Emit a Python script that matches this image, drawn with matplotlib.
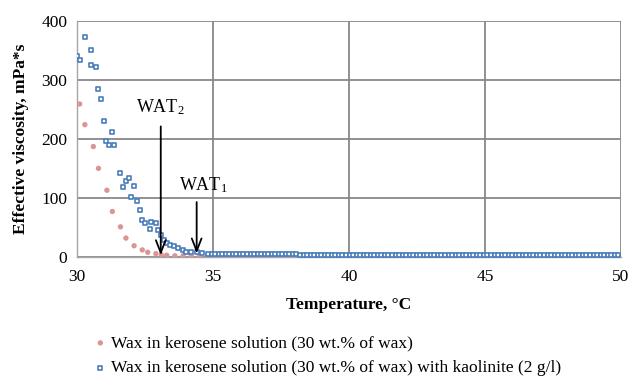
import numpy as np
import matplotlib
matplotlib.use("Agg")
import matplotlib.pyplot as plt

plt.rcParams['font.family'] = ['Liberation Serif', 'DejaVu Serif']
plt.rcParams['mathtext.default'] = 'regular'

# Blue: with kaolinite
blue_T_early = [30.0, 30.1, 30.29, 30.5, 30.51, 30.7, 30.79, 30.9, 31.0, 31.07, 31.17,
                31.3, 31.37, 31.6, 31.7, 31.8, 31.9, 32.0, 32.1, 32.2, 32.3, 32.4, 32.5,
                32.7, 32.72, 32.9, 32.99, 33.1, 33.2, 33.3, 33.43, 33.58, 33.72, 33.9,
                34.0, 34.2, 34.4, 34.6, 34.8]
blue_V_early = [341, 334, 373, 325, 350, 322, 284, 268, 231, 197, 189,
                211, 189, 143, 119, 129, 133, 101, 121, 95, 80, 63, 58,
                48, 59.6, 58, 45, 37, 29, 23, 20, 18.6, 14.6, 12,
                9, 8, 8, 6, 4.5]
blue_T_tail = np.round(np.arange(34.95, 50.0, 0.13), 2)  # 116 readings
blue_V_tail = [5.0, 5.0, 4.9, 4.8, 4.8, 4.7, 4.7, 4.6, 4.6, 4.6, 4.5, 4.5, 4.5, 4.5,
               4.4, 4.4, 4.4, 4.4, 4.4, 4.3, 4.3, 4.3, 4.3, 4.3, 4.3, 4.2, 4.2, 4.2,
               4.2, 4.2, 4.2, 4.2, 4.1, 4.1, 4.1, 4.1, 4.1, 4.1, 4.1, 4.1, 4.0, 4.0,
               4.0, 4.0, 4.0, 4.0, 4.0, 4.0, 4.0, 4.0, 3.9, 3.9, 3.9, 3.9, 3.9, 3.9,
               3.9, 3.9, 3.9, 3.9, 3.9, 3.9, 3.8, 3.8, 3.8, 3.8, 3.8, 3.8, 3.8, 3.8,
               3.8, 3.8, 3.8, 3.8, 3.8, 3.7, 3.7, 3.7, 3.7, 3.7, 3.7, 3.7, 3.7, 3.7,
               3.7, 3.7, 3.7, 3.7, 3.7, 3.7, 3.6, 3.6, 3.6, 3.6, 3.6, 3.6, 3.6, 3.6,
               3.6, 3.6, 3.6, 3.6, 3.6, 3.6, 3.6, 3.6, 3.5, 3.5, 3.5, 3.5, 3.5, 3.5,
               3.5, 3.5, 3.5, 3.5]
n_tail = min(len(blue_T_tail), len(blue_V_tail))
blue_T = list(blue_T_early) + list(blue_T_tail[:n_tail])
blue_V = blue_V_early + blue_V_tail[:n_tail]

# Red: without kaolinite
red_T_early = [30.1, 30.29, 30.6, 30.79, 31.1, 31.3, 31.6, 31.8, 32.1, 32.4, 32.6,
               32.9, 33.1, 33.3, 33.6]
red_V_early = [259, 224, 187, 150, 113, 77, 51, 32, 19, 12, 8, 5.6, 4, 3, 2]
red_T_tail = np.round(np.arange(33.9, 50.0, 0.3), 2)
red_V_tail = [2.0] * len(red_T_tail)
red_T = list(red_T_early) + list(red_T_tail)
red_V = red_V_early + red_V_tail

# WAT annotations
wat_labels = ['WAT$_2$', 'WAT$_1$']
wat_T = [33.08, 34.4]
wat_top = [221, 93]
wat_tip = [3, 6]
wat_text_T = [33.06, 34.66]
wat_text_V = [253, 121]

blue_c = '#4a7ebb'
red_c = '#d99694'

fig = plt.figure(figsize=(6.32, 3.81), dpi=100)
ax = fig.add_axes([0.1218, 0.3255, 0.8608, 0.6202])

ax.scatter(red_T, red_V, s=15, marker='o', color=red_c, edgecolors='none', zorder=3)
ax.scatter(blue_T, blue_V, s=9, marker='s', facecolors='white', edgecolors=blue_c,
           linewidths=1.2, zorder=4)

for lab, t, top, tip, tt, tv in zip(wat_labels, wat_T, wat_top, wat_tip, wat_text_T, wat_text_V):
    ax.annotate('', xy=(t, tip), xytext=(t, top),
                arrowprops=dict(arrowstyle='->,head_length=0.9,head_width=0.35',
                                color='black', lw=1.3, shrinkA=0, shrinkB=0), zorder=5)
    ax.text(tt, tv, lab, ha='center', va='center', fontsize=13)

ax.set_xlim(30, 50)
ax.set_ylim(0, 400)
ax.set_xticks([30, 35, 40, 45, 50])
ax.set_yticks([0, 100, 200, 300, 400])
ax.tick_params(axis='y', length=0, labelsize=12.5, pad=7)
ax.tick_params(axis='x', length=0, labelsize=12.5, pad=9)
ax.grid(True, color='#888888', linewidth=1.3, zorder=0)
ax.set_axisbelow(True)
for s in ['top', 'right']:
    ax.spines[s].set_visible(False)
for s in ['left', 'bottom']:
    ax.spines[s].set_color('#a6a6a6')
    ax.spines[s].set_linewidth(1.0)

ax.set_xlabel('Temperature, °C', fontsize=12.5, fontweight='bold', labelpad=8)
ax.set_ylabel('Effective viscosity, mPa*s', fontsize=12.5, fontweight='bold', labelpad=9)

h1 = ax.scatter([], [], s=15, marker='o', color=red_c, edgecolors='none')
h2 = ax.scatter([], [], s=9, marker='s', facecolors='white', edgecolors=blue_c, linewidths=1.2)
fig.legend([h1, h2],
           ['Wax in kerosene solution (30 wt.% of wax)',
            'Wax in kerosene solution (30 wt.% of wax) with kaolinite (2 g/l)'],
           loc='upper left', bbox_to_anchor=(0.145, 0.12), frameon=False,
           fontsize=12.5, handletextpad=0.1, labelspacing=0.5, handlelength=1.0,
           borderaxespad=0, borderpad=0)

fig.savefig('out.png', dpi=100)
